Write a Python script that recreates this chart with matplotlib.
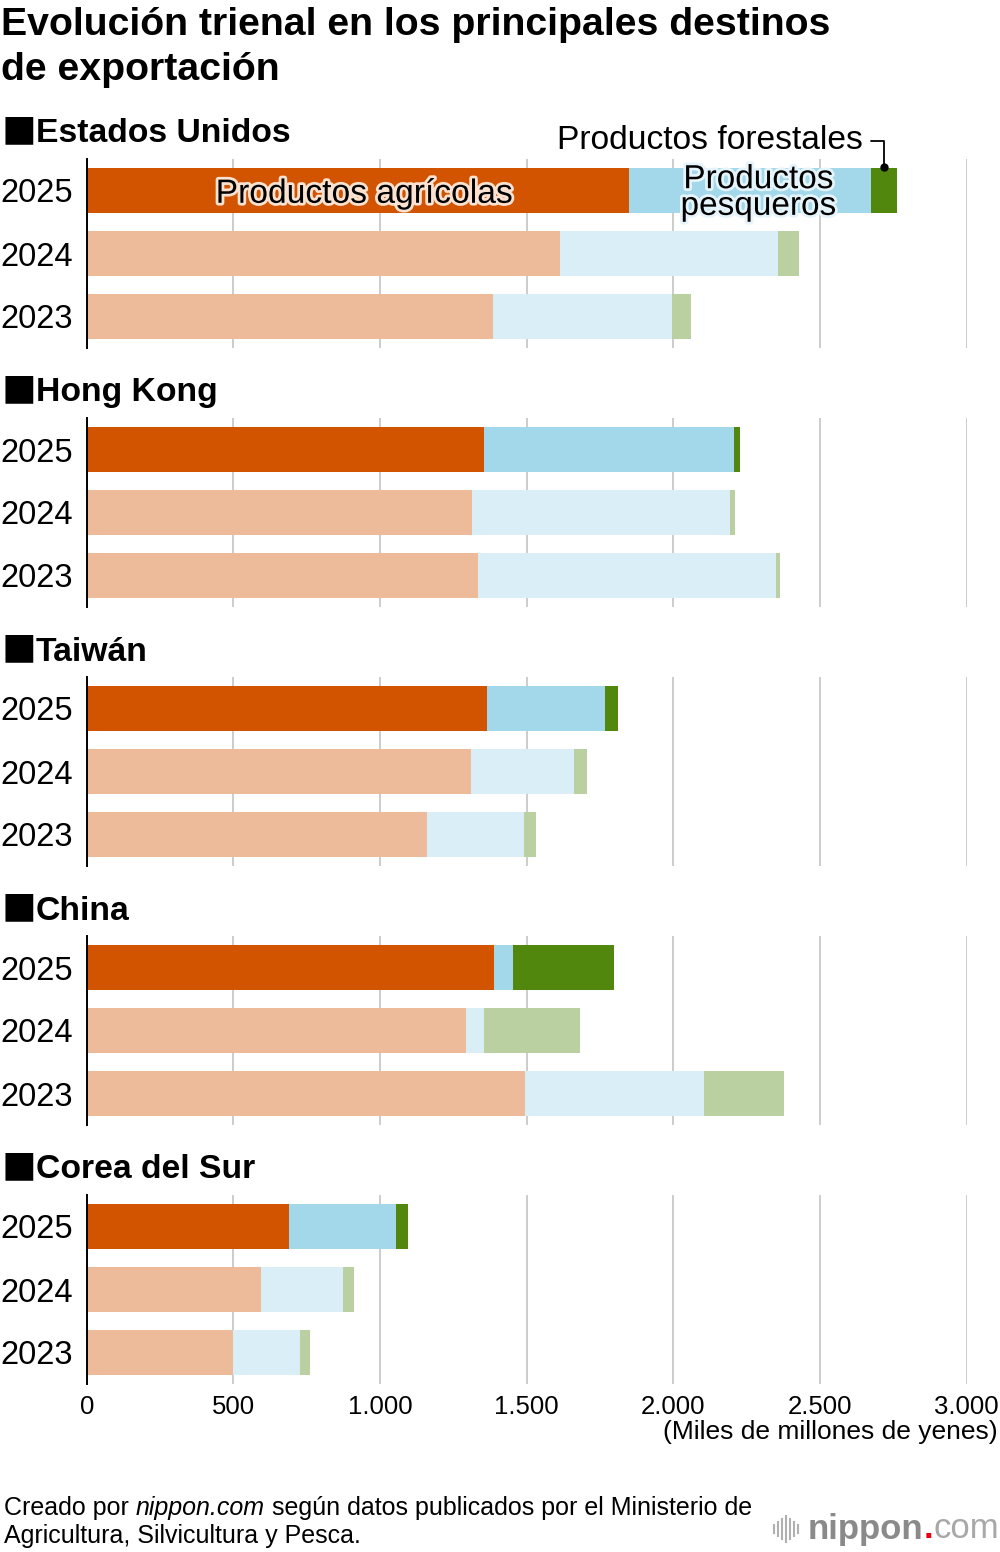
import numpy as np
import matplotlib
matplotlib.use('Agg')
from matplotlib import pyplot as plt
import matplotlib.patheffects as pe

plt.rcParams['font.family'] = ['Liberation Sans', 'DejaVu Sans']

# values in miles de millones de yenes, order 2025, 2024, 2023
countries = ['Estados Unidos', 'Hong Kong', 'Taiwán', 'China', 'Corea del Sur']
years = ['2025', '2024', '2023']
agricolas = [[1848, 1614, 1384],
             [1356, 1313, 1335],
             [1365, 1310, 1161],
             [1388, 1293, 1494],
             [691, 594, 499]]
pesqueros = [[826, 742, 613],
             [852, 880, 1015],
             [402, 350, 330],
             [67, 63, 610],
             [365, 281, 228]]
forestales = [[88, 73, 64],
              [19, 17, 14],
              [45, 45, 41],
              [344, 325, 272],
              [39, 37, 35]]
xticks = [0, 500, 1000, 1500, 2000, 2500, 3000]
xticklabels = ['0', '500', '1.000', '1.500', '2.000', '2.500', '3.000']

agri_c = ['#D35400', '#EDBB9A', '#EDBB9A']
fish_c = ['#A3D8EA', '#D9EEF6', '#D9EEF6']
fore_c = ['#52870E', '#BBD0A0', '#BBD0A0']

W, H = 1000, 1552
fig = plt.figure(figsize=(W / 100, H / 100), dpi=100)

def fy(y):
    return 1 - y / H

ax_left = 86.7 / W
ax_width = 3000 * 0.2933 / W
panel_h = 189
tops = [159, 418, 677, 936, 1195]

fig.text(1 / W, fy(35), 'Evolución trienal en los principales destinos',
         fontsize=28.3, fontweight='bold', va='baseline', ha='left')
fig.text(1 / W, fy(80), 'de exportación',
         fontsize=28.3, fontweight='bold', va='baseline', ha='left')

axes = []
for i, name in enumerate(countries):
    top = tops[i]
    ax = fig.add_axes([ax_left, fy(top + panel_h), ax_width, panel_h / H])
    axes.append(ax)
    a = np.array(agricolas[i])
    f = np.array(pesqueros[i])
    r = np.array(forestales[i])
    y = np.arange(3)
    ax.barh(y, a, height=0.7, color=agri_c, zorder=3)
    ax.barh(y, f, left=a, height=0.7, color=fish_c, zorder=3)
    ax.barh(y, r, left=a + f, height=0.7, color=fore_c, zorder=3)
    ax.set_xlim(0, 3000)
    ax.set_ylim(2.5, -0.5)
    ax.set_xticks(xticks)
    ax.grid(axis='x', color='#cccccc', lw=1.4, zorder=0)
    ax.set_axisbelow(True)
    for s in ['top', 'right', 'bottom']:
        ax.spines[s].set_visible(False)
    ax.spines['left'].set_color('black')
    ax.spines['left'].set_linewidth(1.4)
    ax.spines['left'].set_zorder(5)
    ax.set_yticks(y)
    ax.set_yticklabels(years, fontsize=23.5)
    ax.tick_params(axis='y', length=0, pad=10)
    if i < len(countries) - 1:
        ax.set_xticklabels([])
        ax.tick_params(axis='x', length=0)
    else:
        ax.set_xticklabels(xticklabels, fontsize=18.5)
        ax.tick_params(axis='x', length=0, pad=8)

    # panel header
    ty = top - 25
    fig.text(2 / W, fy(ty), '■', fontsize=25, family='Noto Sans CJK JP',
             va='center', ha='left')
    fig.text(36 / W, fy(ty), name, fontsize=24.3, fontweight='bold',
             va='center', ha='left')

# labels inside the first panel
ax0 = axes[0]
a0, f0, r0 = agricolas[0][0], pesqueros[0][0], forestales[0][0]
ax0.text(945, 0.06, 'Productos agrícolas', fontsize=24.2, ha='center',
         va='center', color='black', zorder=6,
         path_effects=[pe.withStroke(linewidth=4, foreground='#FBE1CF')])
ax0.text(2290, 0.04, 'Productos\npesqueros', fontsize=24, ha='center',
         va='center', color='black', zorder=6, linespacing=0.82,
         path_effects=[pe.withStroke(linewidth=4, foreground='#E4F4FA')])
fx = a0 + f0 + r0 / 2
ax0.annotate('Productos forestales', xy=(fx, -0.38), xytext=(2645, -0.79),
             textcoords='data', fontsize=24.2, ha='right', va='center',
             zorder=6, annotation_clip=False,
             arrowprops=dict(arrowstyle='-', color='black', lw=1.3,
                             connectionstyle='angle,angleA=0,angleB=90,rad=0',
                             shrinkA=4, shrinkB=0))
ax0.plot([fx], [-0.38], 'o', color='black', ms=5, zorder=7, clip_on=False)

fig.text(998 / W, fy(1432), '(Miles de millones de yenes)', fontsize=19,
         ha='right', va='center')

# source note, with nippon.com in italics
fig.canvas.draw()
src_fs = 18
parts = [('Creado por ', 'normal'), ('nippon.com', 'italic'),
         (' según datos publicados por el Ministerio de', 'normal')]
xpix = 4
for txt, st in parts:
    t = fig.text(xpix / W, fy(1508), txt, fontsize=src_fs, style=st,
                 ha='left', va='center')
    xpix = t.get_window_extent(renderer=fig.canvas.get_renderer()).x1
fig.text(4 / W, fy(1536), 'Agricultura, Silvicultura y Pesca.',
         fontsize=src_fs, ha='left', va='center')

# logo
logo_y = fy(1529)
t1 = fig.text(808 / W, logo_y, 'nippon', fontsize=25, fontweight='bold',
              color='#8a8a8a', ha='left', va='center')
fig.canvas.draw()
bb = t1.get_window_extent()
t2 = fig.text(bb.x1 / W, logo_y, '.', fontsize=25, fontweight='bold',
              color='#e60012', ha='left', va='center')
bb2 = t2.get_window_extent()
fig.text(bb2.x1 / W, logo_y, 'com', fontsize=25, color='#a8a8a8',
         ha='left', va='center')
bar_h = [8, 14, 20, 26, 20, 14, 8]
for k, hh in enumerate(bar_h):
    xx = (774 + k * 4) / W
    fig.add_artist(plt.Line2D([xx, xx], [fy(1529 - hh / 2), fy(1529 + hh / 2)],
                              color='#b0b0b0', lw=1.5))

fig.savefig('out.png', dpi=100)
